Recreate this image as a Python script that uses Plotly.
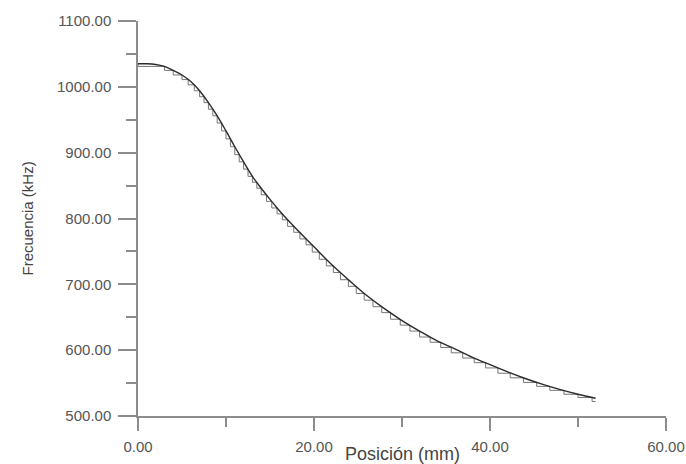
import plotly.graph_objects as go

# Smooth (calculated) curve
pos_mm = [0, 1, 2, 3, 4, 5, 6, 7, 8, 9, 10, 11, 12, 13, 14, 15, 16, 17, 18,
          20, 22, 24, 26, 28, 30, 32, 34, 36, 38, 40, 42, 44, 46, 48, 50, 52]
freq_khz = [1035, 1035, 1034, 1031, 1025, 1018, 1008, 994, 976, 956, 933, 909,
            886, 864, 846, 829, 813, 798, 784, 757, 730, 706, 683, 663, 645,
            629, 614, 602, 589, 578, 567, 557, 548, 540, 533, 527]

# Stepped (discrete sections) curve
step_pos_mm = [0, 3.0, 4.0, 5.0, 5.7, 6.4, 7.0, 7.5, 8.0, 8.5, 9.0, 9.5, 10.0,
               10.5, 11.0, 11.5, 12.0, 12.5, 13.0, 13.5, 14.0, 14.6, 15.2, 15.8,
               16.4, 17.0, 17.7, 18.4, 19.1, 19.8, 20.6, 21.4, 22.2, 23.0, 23.9,
               24.8, 25.7, 26.7, 27.7, 28.7, 29.8, 30.9, 32.0, 33.2, 34.4, 35.6,
               36.9, 38.2, 39.5, 40.9, 42.3, 43.8, 45.3, 46.8, 48.4, 50.0, 51.6, 52.0]
step_freq_khz = [1035, 1031, 1025, 1018, 1011, 1003, 994, 985, 976, 966, 956, 945,
                 933, 921, 909, 897, 886, 875, 864, 855, 846, 836, 826, 816, 807,
                 798, 788, 779, 769, 760, 749, 738, 728, 718, 707, 697, 686, 676,
                 666, 657, 647, 638, 629, 620, 612, 604, 596, 588, 581, 573, 565,
                 558, 551, 545, 539, 533, 528, 522]

x_ticks = [0, 20, 40, 60]
y_ticks = [500, 600, 700, 800, 900, 1000, 1100]
x_title = "Posición (mm)"
y_title = "Frecuencia (kHz)"

fig = go.Figure()
fig.add_trace(go.Scatter(x=step_pos_mm, y=step_freq_khz, mode="lines",
                         line=dict(color="#777777", width=1, shape="vh"),
                         showlegend=False))
fig.add_trace(go.Scatter(x=pos_mm, y=freq_khz, mode="lines",
                         line=dict(color="#2b2b2b", width=1.4, shape="spline"),
                         showlegend=False))

axis_col = "#8c8c8c"
tick_font = dict(family="Liberation Sans, Arial, sans-serif", size=15, color="#555555")

fig.update_xaxes(range=[0, 60], tickvals=x_ticks, ticktext=[f"{v:.2f}" for v in x_ticks],
                 showline=True, linecolor=axis_col, linewidth=1.5, showgrid=False,
                 zeroline=False, ticks="outside", ticklen=13, tickwidth=1.5,
                 tickcolor=axis_col, tickfont=tick_font, ticklabelstandoff=3,
                 automargin=False,
                 minor=dict(tickvals=[10, 30, 50], ticks="outside", ticklen=9,
                            tickwidth=1.5, tickcolor=axis_col, showgrid=False))
fig.update_yaxes(range=[500, 1100], tickvals=y_ticks, ticktext=[f"{v:.2f}" for v in y_ticks],
                 showline=True, linecolor=axis_col, linewidth=1.5, showgrid=False,
                 zeroline=False, ticks="outside", ticklen=18, tickwidth=1.5,
                 tickcolor=axis_col, tickfont=tick_font, ticklabelstandoff=4,
                 automargin=False,
                 minor=dict(tickvals=[550, 650, 750, 850, 950, 1050], ticks="outside",
                            ticklen=10, tickwidth=1.5, tickcolor=axis_col, showgrid=False))

fig.add_annotation(text=x_title, xref="paper", yref="paper", x=0.5, y=0,
                   xanchor="center", yanchor="middle", yshift=-38, showarrow=False,
                   font=dict(family="Liberation Sans, Arial, sans-serif", size=18, color="#444444"))
fig.add_annotation(text=y_title, xref="paper", yref="paper", x=0, y=0.5,
                   xanchor="center", yanchor="middle", xshift=-111, textangle=-90,
                   showarrow=False,
                   font=dict(family="Liberation Sans, Arial, sans-serif", size=15, color="#444444"))

fig.update_layout(width=686, height=464, autosize=False,
                  margin=dict(l=138, r=20, t=21, b=48, pad=0),
                  paper_bgcolor="white", plot_bgcolor="white")

fig.write_html("out.html")
